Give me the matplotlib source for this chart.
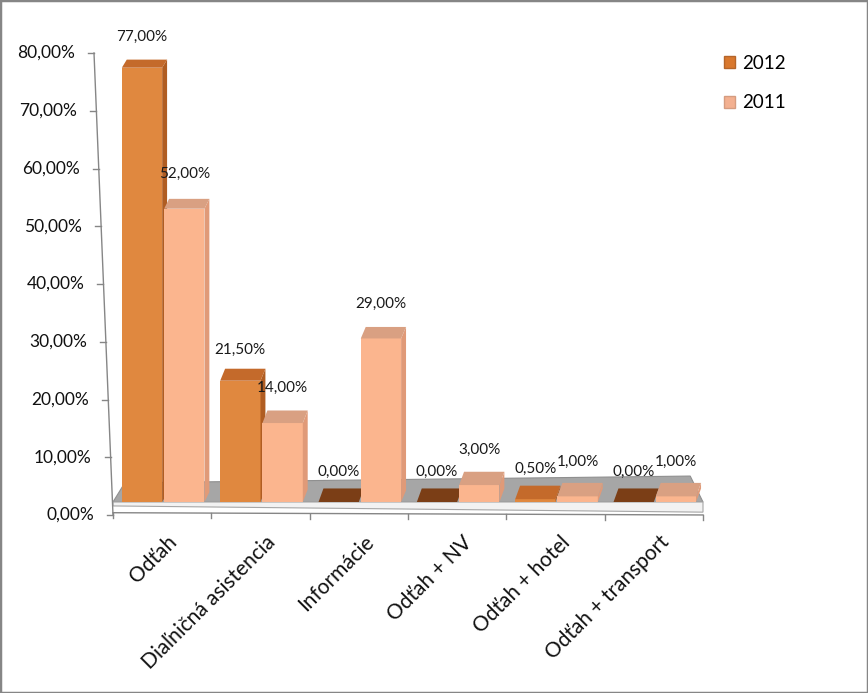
import matplotlib
matplotlib.use("Agg")
import matplotlib.pyplot as plt
from matplotlib.patches import Polygon, Rectangle, Patch

categories = ["Odťah", "Diaľničná asistencia", "Informácie",
              "Odťah + NV", "Odťah + hotel", "Odťah + transport"]
vals_2012 = [77.0, 21.5, 0.0, 0.0, 0.5, 0.0]
vals_2011 = [52.0, 14.0, 29.0, 3.0, 1.0, 1.0]
series_names = ["2012", "2011"]
yticks = [0, 10, 20, 30, 40, 50, 60, 70, 80]

plt.rcParams['font.family'] = ['Lato', 'DejaVu Sans']

W, H = 868, 693
fig = plt.figure(figsize=(W / 100, H / 100), dpi=100)


def px_axes(left, top, right, bottom):
    return fig.add_axes([left / W, 1 - bottom / H, (right - left) / W, (bottom - top) / H])


def pct(v):
    return ("%.2f" % v).replace(".", ",") + "%"


# plot area: category -0.5 at px 113, 5.5 at px 703; value 0 at px 502
s = 5.64
ymin, ymax = -4, 82
ax = px_axes(113, 502 - ymax * s, 703, 502 - ymin * s)
ax.set_xlim(-0.5, 5.5)
ax.set_ylim(ymin, ymax)
ax.axis('off')

# floor slab
ax.add_patch(Polygon([(-0.5, 0), (5.5, 0), (5.37, 4.6), (-0.38, 3.4)],
                     fc='#a6a6a6', ec='#8f8f8f', lw=0.8, zorder=1, clip_on=False))
ax.add_patch(Polygon([(-0.5, 0), (5.5, 0), (5.5, -1.8), (-0.5, -0.7)],
                     fc='#f2f2f2', ec='#a6a6a6', lw=0.8, zorder=1, clip_on=False))

# bottom axis line and ticks
yb = -2.1
ax.plot([-0.5, 5.5], [yb + 0.2, yb - 0.2], color='#868686', lw=1, clip_on=False, zorder=1)
for t in range(len(categories) + 1):
    ax.plot([t - 0.5, t - 0.5], [yb + 0.2 - 0.07 * t, yb - 0.7 - 0.07 * t],
            color='#868686', lw=1, clip_on=False, zorder=1)

# bars with pseudo 3D top and side faces
w = 0.41
offsets = [-0.205, 0.225]
label_lift = [22, 25]
front_cols = ['#e0883f', '#fbb58e']
top_cols = ['#c46a2b', '#d9a082']
side_cols = ['#b05d22', '#e09a78']
zero_col = '#7b3e16'
dx = 0.05

z = 2
for i in range(len(categories)):
    for k, vals in enumerate([vals_2012, vals_2011]):
        v = vals[i]
        bar = ax.bar(i + offsets[k], v, width=w, color=front_cols[k],
                     edgecolor='none', zorder=z)[0]
        x0 = bar.get_x()
        x1 = x0 + bar.get_width()
        h = bar.get_height()
        dy = 1.4 + 1.0 * (1 - h / 80)   # top faces look deeper near the floor
        top_c = zero_col if v == 0 else top_cols[k]
        ax.add_patch(Polygon([(x1, 0), (x1, h), (x1 + dx, h + dy), (x1 + dx, dy)],
                             fc=side_cols[k] if v > 0 else zero_col, ec='none', zorder=z))
        ax.add_patch(Polygon([(x0, h), (x1, h), (x1 + dx, h + dy), (x0 + dx, h + dy)],
                             fc=top_c, ec='none', zorder=z + 0.5))
        ax.annotate(pct(v), (x0 + w / 2, h), xytext=(0, label_lift[k]),
                    textcoords='offset points', ha='center', va='center',
                    fontsize=11, color='#1a1a1a', zorder=10)
        z += 1

# slanted value axis (pixel coordinates on a helper axes)
ay = px_axes(0, 53, 113, 515)
ay.set_xlim(0, 113)
ay.set_ylim(0, 80)
ay.axis('off')
ay.plot([94, 113], [80, 0], color='#868686', lw=1, clip_on=False)
for v in yticks:
    xa = 113 - 19 * v / 80
    ay.plot([xa - 6, xa], [v, v], color='#868686', lw=1, clip_on=False)
    ay.text(xa - 19, v, pct(v), ha='right', va='center', fontsize=12.5, color='#111111')

# category labels
for i, cat in enumerate(categories):
    ax.text(i + 0.05, -5.3, cat, rotation=45, ha='right', va='top',
            rotation_mode='anchor', fontsize=15, color='#111111')

# legend
handles = [Patch(fc='#d9782e', ec='#b5652a'), Patch(fc='#f3b090', ec='#d59c80')]
fig.legend(handles, series_names, loc='upper left', bbox_to_anchor=(707 / W, 1 - 38 / H),
           frameon=False, handlelength=0.6, handleheight=0.6, handletextpad=0.35,
           labelspacing=1.2, fontsize=13.5)

# chart border
fig.patches.append(Rectangle((0, 0), 1, 1, transform=fig.transFigure, fill=False,
                             ec='#868686', lw=2.5))

fig.savefig('out.png', dpi=100)
